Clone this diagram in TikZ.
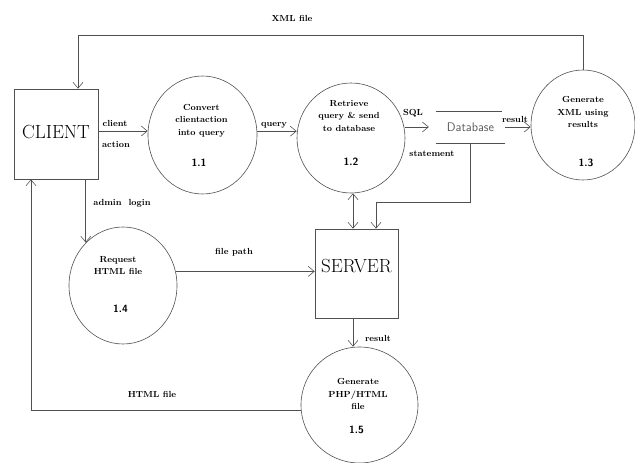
\documentclass[tikz,border=0pt]{standalone}
\usepackage{tikz}
\usetikzlibrary{calc, positioning, arrows.meta, shapes.geometric}
\usepackage{xcolor}
\definecolor{lineGray}{RGB}{80, 80, 80}
\definecolor{storeText}{RGB}{90, 90, 90}

\begin{document}
\begin{tikzpicture}[
  x=1pt, y=-1pt,
  process/.style={ellipse, draw=lineGray, line width=0.6pt, inner sep=0pt},
  ptitle/.style={align=center, inner sep=0pt, font=\bfseries\fontsize{8.8}{12.5}\selectfont},
  pnum/.style={inner sep=0pt, font=\sffamily\bfseries\fontsize{10.5}{12}\selectfont},
  entity/.style={rectangle, draw=lineGray, line width=0.6pt, inner sep=0pt, font=\fontsize{19}{19}\selectfont},
  lbl/.style={inner sep=0pt, font=\bfseries\fontsize{8.8}{10}\selectfont},
  flow/.style={draw=lineGray, line width=0.6pt, -{Straight Barb[length=6pt, width=10pt]}},
  >={Straight Barb[length=6pt, width=10pt]}
]
  \useasboundingbox (0,0) rectangle (635,463);

  % External entities
  \node[entity, minimum width=84pt, minimum height=90pt, text height=14pt, text depth=6pt] (client) at (56,134) {CLIENT};
  \node[entity, minimum width=83pt, minimum height=89pt, text height=14pt, text depth=17pt] (server) at (356.5,273.5) {SERVER};

  % Processes
  \node[process, minimum width=109pt, minimum height=118pt] (p11) at (202.5,135) {};
  \node[process, minimum width=108pt, minimum height=110pt] (p12) at (351,138) {};
  \node[process, minimum width=104pt, minimum height=110pt] (p13) at (583,125) {};
  \node[process, minimum width=108pt, minimum height=117pt] (p14) at (123,285.5) {};
  \node[process, minimum width=117pt, minimum height=116pt] (p15) at (359.5,405) {};

  \node[ptitle] (t11) at ($(p11)+(-1,-14.5)$) {Convert\\clientaction\\into query};
  \node[ptitle] (t12) at ($(p12)+(-2,-22)$) {Retrieve\\query \& send\\to database};
  \node[ptitle] (t13) at ($(p13)+(0,-13)$) {Generate\\XML using\\results};
  \node[ptitle] (t14) at ($(p14)+(-5,-20)$) {Request\\HTML file};
  \node[ptitle] (t15) at ($(p15)+(-1.5,-11)$) {Generate\\PHP/HTML\\file};

  \node[pnum] (n11) at ($(p11)+(-3.5,28)$) {1.1};
  \node[pnum] (n12) at ($(p12)+(0,24)$) {1.2};
  \node[pnum] (n13) at ($(p13)+(3,38)$) {1.3};
  \node[pnum] (n14) at ($(p14)+(-2.5,23)$) {1.4};
  \node[pnum] (n15) at ($(p15)+(-3,25)$) {1.5};

  % Data store
  \node[minimum width=69pt, minimum height=32pt, inner sep=0pt, text=storeText,
        font=\sffamily\fontsize{12.5}{14}\selectfont] (db) at (470.5,127) {Database};
  \draw[lineGray, line width=0.6pt] (db.north west) -- ([xshift=-3pt]db.north east);
  \draw[lineGray, line width=0.6pt] (db.south west) -- (db.south east);

  % Data flows
  \draw[flow] ([yshift=3pt]client.east) -- ([yshift=3pt]client.east -| p11.west);
  \draw[flow] (p11.4) -- (p11.4 -| p12.west);
  \draw[flow] (p12.east |- db.west) -- ([xshift=-7pt]db.west);
  \draw[flow] (db.east) -- (db.east -| p13.west);
  \draw[flow] (p13.north) |- ([xshift=22pt, yshift=53pt]client.north) -- ([xshift=22pt]client.north);
  \draw[flow] (db.south) |- ([xshift=19.5pt, yshift=26pt]server.north) -- ([xshift=19.5pt]server.north);
  \draw[<->, draw=lineGray, line width=0.6pt] ([xshift=-3.5pt]server.north |- p12.south) -- ([xshift=-3.5pt]server.north);
  \draw[flow] (client.south -| p14.131) -- (p14.131);
  \draw[flow] (p14.15.5) -- (p14.15.5 -| server.west);
  \draw[flow] ([xshift=-3.5pt]server.south) -- ([xshift=-3.5pt]server.south |- p15.north);
  \draw[flow] (p15.185) -| ([xshift=-25pt]client.south);

  % Flow labels
  \node[lbl] (lxml) at (292,18) {XML file};
  \node[lbl] (lclient) at (115,123) {client};
  \node[lbl] (laction) at (116,145) {action};
  \node[lbl] (lquery) at (274,125) {query};
  \node[lbl] (ladmin) at (122,203) {admin\ \ login};
  \node[lbl] (lsql) at (413,113) {SQL};
  \node[lbl] (lstmt) at (432,154) {statement};
  \node[lbl] (lres1) at (515,119) {result};
  \node[lbl] (lpath) at (234,252) {file path};
  \node[lbl] (lhtml) at (152,394) {HTML file};
  \node[lbl] (lres2) at (378,338) {result};
\end{tikzpicture}
\end{document}
